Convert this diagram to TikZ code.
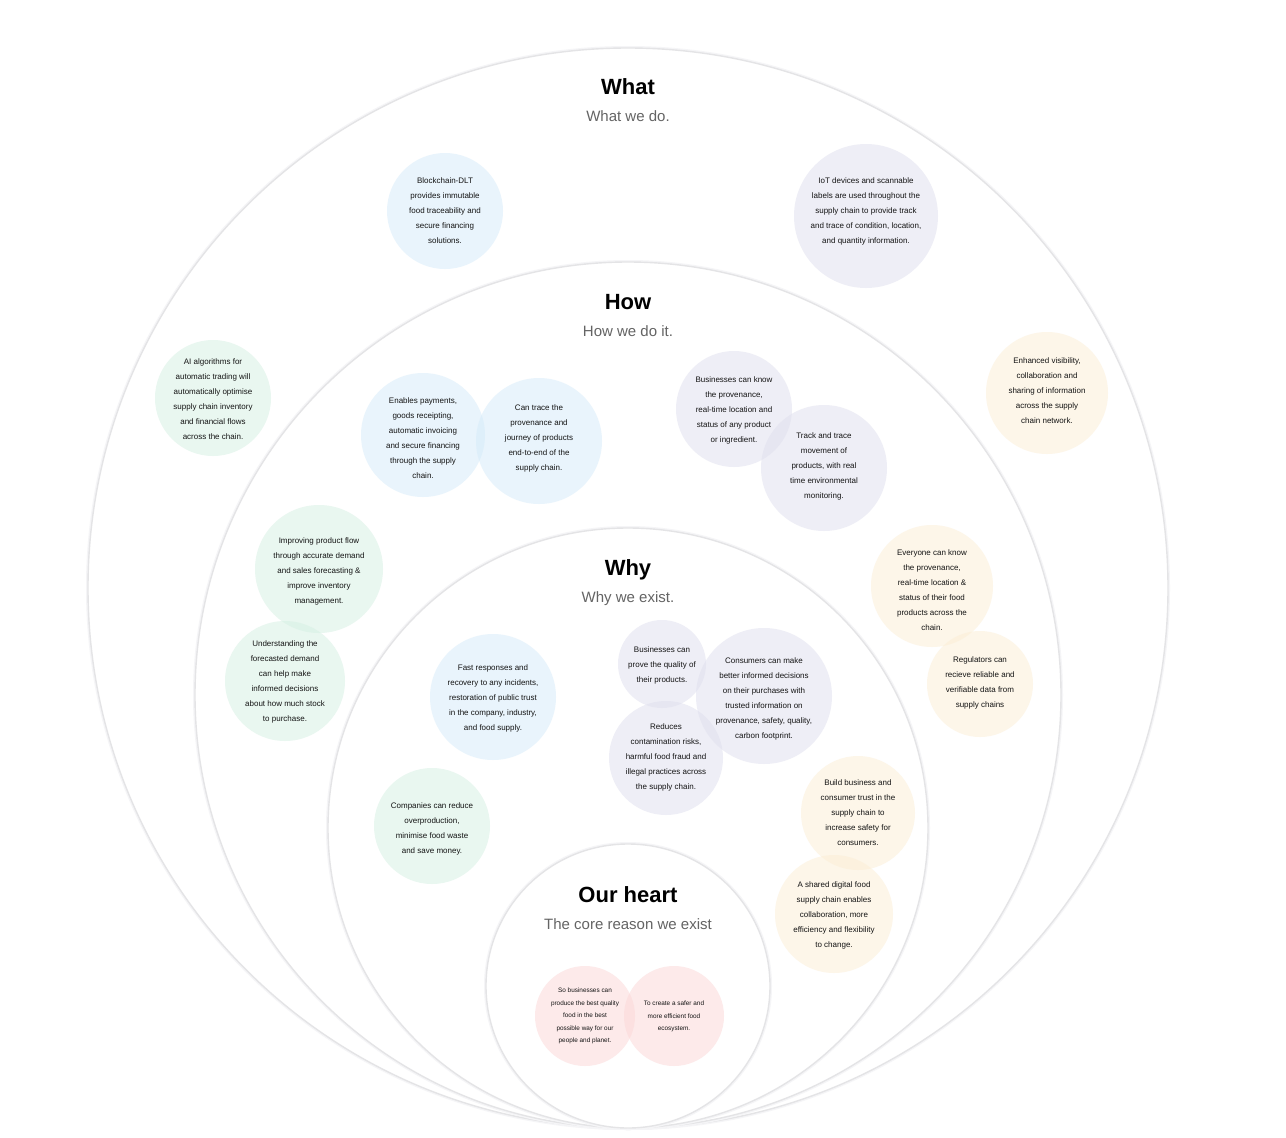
\documentclass[tikz,border=0pt]{standalone}
\usepackage{fontspec}
\setmainfont{Liberation Sans}
\definecolor{ringc}{RGB}{228,228,230}
\definecolor{ringsh}{RGB}{245,245,247}
\definecolor{bblue}{RGB}{213,235,250}
\definecolor{blav}{RGB}{223,223,238}
\definecolor{bgreen}{RGB}{213,240,227}
\definecolor{bcream}{RGB}{252,238,213}
\definecolor{bpink}{RGB}{252,215,215}
\definecolor{txtc}{RGB}{20,20,20}
\definecolor{subc}{RGB}{100,100,100}
\begin{document}
\begin{tikzpicture}[x=1pt,y=-1pt,
  ring/.style={circle,draw=ringc,line width=1.4pt,fill=white,inner sep=0pt,
    preaction={draw=ringsh,line width=4pt}},
  bub/.style={circle,inner sep=0pt,draw=none,fill opacity=0.52},
  blue/.style={bub,fill=bblue},
  lav/.style={bub,fill=blav},
  green/.style={bub,fill=bgreen},
  cream/.style={bub,fill=bcream},
  pink/.style={bub,fill=bpink},
  txt/.style={align=center,inner sep=0pt,text=txtc,font=\fontsize{8}{15}\selectfont},
  smalltxt/.style={align=center,inner sep=0pt,text=txtc,font=\fontsize{6.4}{12.5}\selectfont},
  title/.style={inner sep=0pt,text=black,font=\bfseries\fontsize{22}{26}\selectfont},
  subtitle/.style={inner sep=0pt,text=subc,font=\fontsize{15}{18}\selectfont}
]
\useasboundingbox[fill=white] (0,0) rectangle (1286,1138);

% rings
\node[ring,minimum size=1080pt] (rWhat) at (628,588) {};
\node[ring,minimum size=866pt] (rHow) at (628,695) {};
\node[ring,minimum size=600pt] (rWhy) at (628,828) {};
\node[ring,minimum size=284pt] (rHeart) at (628,986) {};

% titles
\node[title] (tWhat) at (628,87) {What};
\node[subtitle] (sWhat) at (628,116) {What we do.};
\node[title] (tHow) at (628,302) {How};
\node[subtitle] (sHow) at (628,331) {How we do it.};
\node[title] (tWhy) at (628,570) {Why};
\node[subtitle] (sWhy) at (628,599) {Why we exist.};
\node[title] (tHeart) at (628,895) {Our heart};
\node[subtitle] (sHeart) at (628,924) {The core reason we exist};

% bubbles
\node[blue,minimum size=116pt] (b1) at (445,211) {};
\node[lav,minimum size=144pt] (b2) at (866,216) {};
\node[green,minimum size=116pt] (b3) at (213,398) {};
\node[cream,minimum size=122pt] (b4) at (1047,393) {};
\node[blue,minimum size=124pt] (b5) at (423,435) {};
\node[blue,minimum size=126pt] (b6) at (539,441) {};
\node[lav,minimum size=116pt] (b7) at (734,409) {};
\node[lav,minimum size=126pt] (b8) at (824,468) {};
\node[green,minimum size=128pt] (b9) at (319,569) {};
\node[green,minimum size=120pt] (b10) at (285,681) {};
\node[cream,minimum size=122pt] (b11) at (932,586) {};
\node[cream,minimum size=106pt] (b12) at (980,684) {};
\node[blue,minimum size=126pt] (b13) at (493,697) {};
\node[lav,minimum size=88pt] (b14) at (662,664) {};
\node[lav,minimum size=136pt] (b15) at (764,696) {};
\node[lav,minimum size=114pt] (b16) at (666,758) {};
\node[green,minimum size=116pt] (b17) at (432,826) {};
\node[cream,minimum size=114pt] (b18) at (858,813) {};
\node[cream,minimum size=118pt] (b19) at (834,914) {};
\node[pink,minimum size=100pt] (b20) at (585,1016) {};
\node[pink,minimum size=100pt] (b21) at (674,1016) {};

% texts
\node[txt] (t1) at (445,211) {Blockchain-DLT\\provides immutable\\food traceability and\\secure financing\\solutions.};
\node[txt] (t2) at (866,211) {IoT devices and scannable\\labels are used throughout the\\supply chain to provide track\\and trace of condition, location,\\and quantity information.};
\node[txt] (t3) at (213,399.5) {AI algorithms for\\automatic trading will\\automatically optimise\\supply chain inventory\\and financial flows\\across the chain.};
\node[txt] (t4) at (1047,391) {Enhanced visibility,\\collaboration and\\sharing of information\\across the supply\\chain network.};
\node[txt] (t5) at (423,438.5) {Enables payments,\\goods receipting,\\automatic invoicing\\and secure financing\\through the supply\\chain.};
\node[txt] (t6) at (539,438) {Can trace the\\provenance and\\journey of products\\end-to-end of the\\supply chain.};
\node[txt] (t7) at (734,410) {Businesses can know\\the provenance,\\real-time location and\\status of any product\\or ingredient.};
\node[txt] (t8) at (824,466) {Track and trace\\movement of\\products, with real\\time environmental\\monitoring.};
\node[txt] (t9) at (319,571) {Improving product flow\\through accurate demand\\and sales forecasting \&\\improve inventory\\management.};
\node[txt] (t10) at (285,681.5) {Understanding the\\forecasted demand\\can help make\\informed decisions\\about how much stock\\to purchase.};
\node[txt] (t11) at (932,590.5) {Everyone can know\\the provenance,\\real-time location \&\\status of their food\\products across the\\chain.};
\node[txt] (t12) at (980,682.5) {Regulators can\\recieve reliable and\\verifiable data from\\supply chains};
\node[txt] (t13) at (493,698) {Fast responses and\\recovery to any incidents,\\restoration of public trust\\in the company, industry,\\and food supply.};
\node[txt] (t14) at (662,665) {Businesses can\\prove the quality of\\their products.};
\node[txt] (t15) at (764,698.5) {Consumers can make\\better informed decisions\\on their purchases with\\trusted information on\\provenance, safety, quality,\\carbon footprint.};
\node[txt] (t16) at (666,757) {Reduces\\contamination risks,\\harmful food fraud and\\illegal practices across\\the supply chain.};
\node[txt] (t17) at (432,828.5) {Companies can reduce\\overproduction,\\minimise food waste\\and save money.};
\node[txt] (t18) at (858,813) {Build business and\\consumer trust in the\\supply chain to\\increase safety for\\consumers.};
\node[txt] (t19) at (834,915) {A shared digital food\\supply chain enables\\collaboration, more\\efficiency and flexibility\\to change.};
\node[smalltxt] (t20) at (585,1016) {So businesses can\\produce the best quality\\food in the best\\possible way for our\\people and planet.};
\node[smalltxt] (t21) at (674,1016.5) {To create a safer and\\more efficient food\\ecosystem.};
\end{tikzpicture}
\end{document}
